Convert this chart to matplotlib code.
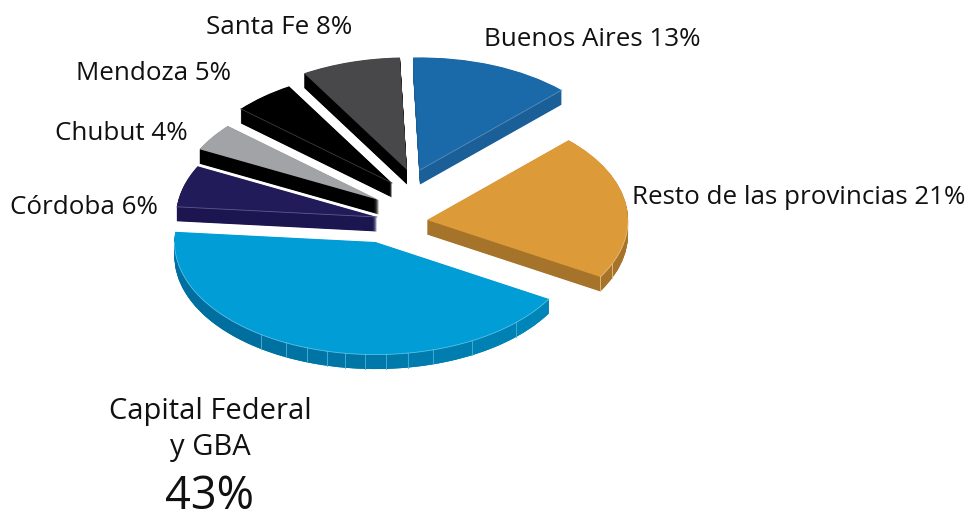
import numpy as np
import matplotlib
matplotlib.use("Agg")
import matplotlib.pyplot as plt
from matplotlib.colors import to_hex, to_rgb
from matplotlib.patches import Wedge, Polygon
from matplotlib.transforms import Affine2D

# ---- data (clockwise from the top) ----
categories = ["Buenos Aires", "Resto de las provincias", "Capital Federal\ny GBA",
              "Córdoba", "Chubut", "Mendoza", "Santa Fe"]
values = [13, 21, 43, 6, 4, 5, 8]

# ---- styles / layout ----
top_colors = ["#1a69a8", "#dc9a38", "#009dd7", "#221b5a", "#a2a3a7", "#000000", "#48484a"]
wall_colors = ["#1b5f98", "#a5742a", "#0085b8", "#1c1650", "#000000", "#000000", "#000000"]
edge_colors = ["#5d8fbd", "#eabf80", "#5cc0e6", "#5f5a8c", "#000000", "#3c3c3c", "#000000"]
explode_xy = [(420, 170), (427, 220), (375.5, 242), (377, 217), (379, 200), (392, 183), (407, 170)]
label_pos = [(484, 40, "left"), (632, 198, "left"), None, (158, 207, "right"),
             (188, 134, "right"), (231, 74, "right"), (352, 28, "right")]
RADIUS, SQUASH, DEPTH, START = 201, 0.56, 14.5, 92
capital_seams = [-30.4, -45.5, -61.4, -73.5, -80.8, -86.9, -92.9, -98.6, -104.1, -109.8,
                 -116.3, -124.6, -180]
rest_seams = [-30.4, -23]

plt.rcParams["font.family"] = ["Open Sans", "DejaVu Sans"]
fig = plt.figure(figsize=(9.69, 5.19), dpi=100)
ax = fig.add_axes([0, 0, 1, 1])
ax.set_xlim(0, 969)
ax.set_ylim(519, 0)
ax.axis("off")

spans = 360 * np.array(values) / sum(values)
ends = START - np.cumsum(spans)
starts = ends + spans


def place(cx, cy):
    return Affine2D().scale(1, -SQUASH).translate(cx, cy) + ax.transData


def rim(cx, cy, a):
    t = np.radians(a)
    return cx + RADIUS * np.cos(t), cy - RADIUS * SQUASH * np.sin(t)


draw_order = [6, 5, 4, 3, 0, 1, 2]
for i in draw_order:
    cx, cy = explode_xy[i]
    t1, t2 = ends[i], starts[i]
    for d in np.arange(DEPTH, 0, -0.5):
        ax.add_patch(Wedge((0, 0), RADIUS, t1, t2, fc=wall_colors[i], ec="none", lw=0,
                           transform=place(cx, cy + d), zorder=i + 1))
    ax.add_patch(Wedge((0, 0), RADIUS, t1, t2, fc=top_colors[i], ec="none", lw=0,
                       transform=place(cx, cy), zorder=i + 1.5))

# Capital wall: shaded facets, highlight along the rim and seams
cx, cy = explode_xy[2]
dark, base = np.array(to_rgb("#006f9f")), np.array(to_rgb("#0085b8"))
for a0, a1 in zip(capital_seams[:-1], capital_seams[1:]):
    f = min(1.0, (abs(a0) - 30) / 95)
    arc = np.linspace(a0, a1, 30)
    xs, ys = rim(cx, cy, arc)
    pts = np.r_[np.c_[xs, ys], np.c_[xs[::-1], ys[::-1] + DEPTH]]
    ax.add_patch(Polygon(pts, fc=to_hex(base * (1 - f) + dark * f), ec="none", zorder=3.2))
    ax.plot(xs, ys, color="#5cc0e6", lw=0.6, zorder=3.6)
for a in capital_seams[1:-1]:
    x, y = rim(cx, cy, a)
    ax.plot([x, x], [y, y + DEPTH], color="#4fb0d6", lw=0.6, zorder=3.4)

# Resto wall: rim highlight and seams
cx, cy = explode_xy[1]
xs, ys = rim(cx, cy, np.linspace(ends[1], 0, 40))
ax.plot(xs, ys, color=edge_colors[1], lw=0.6, zorder=2.6)
for a in rest_seams:
    x, y = rim(cx, cy, a)
    ax.plot([x, x], [y, y + DEPTH], color=edge_colors[1], lw=0.6, zorder=2.4)

# thin highlight on the cut edges of Buenos Aires, Córdoba and Mendoza
for i, angle in [(0, ends[0]), (3, starts[3]), (5, starts[5])]:
    cx, cy = explode_xy[i]
    x, y = rim(cx, cy, angle)
    ax.plot([cx, x], [cy, y], color=edge_colors[i], lw=0.6, zorder=i + 1.7)

# labels
FS = 18.7
for name, v, p in zip(categories, values, label_pos):
    if p is None:
        continue
    x, y, ha = p
    ax.text(x, y, f"{name} {v}%", ha=ha, va="center", fontsize=FS, color="#111111", zorder=20)
ax.text(210, 429.5, categories[2], ha="center", va="center", fontsize=21, color="#111111",
        linespacing=1.32, zorder=20)
ax.text(210, 497, f"{values[2]}%", ha="center", va="center", fontsize=32.5, color="#111111", zorder=20)

fig.savefig("out.png", dpi=100)
